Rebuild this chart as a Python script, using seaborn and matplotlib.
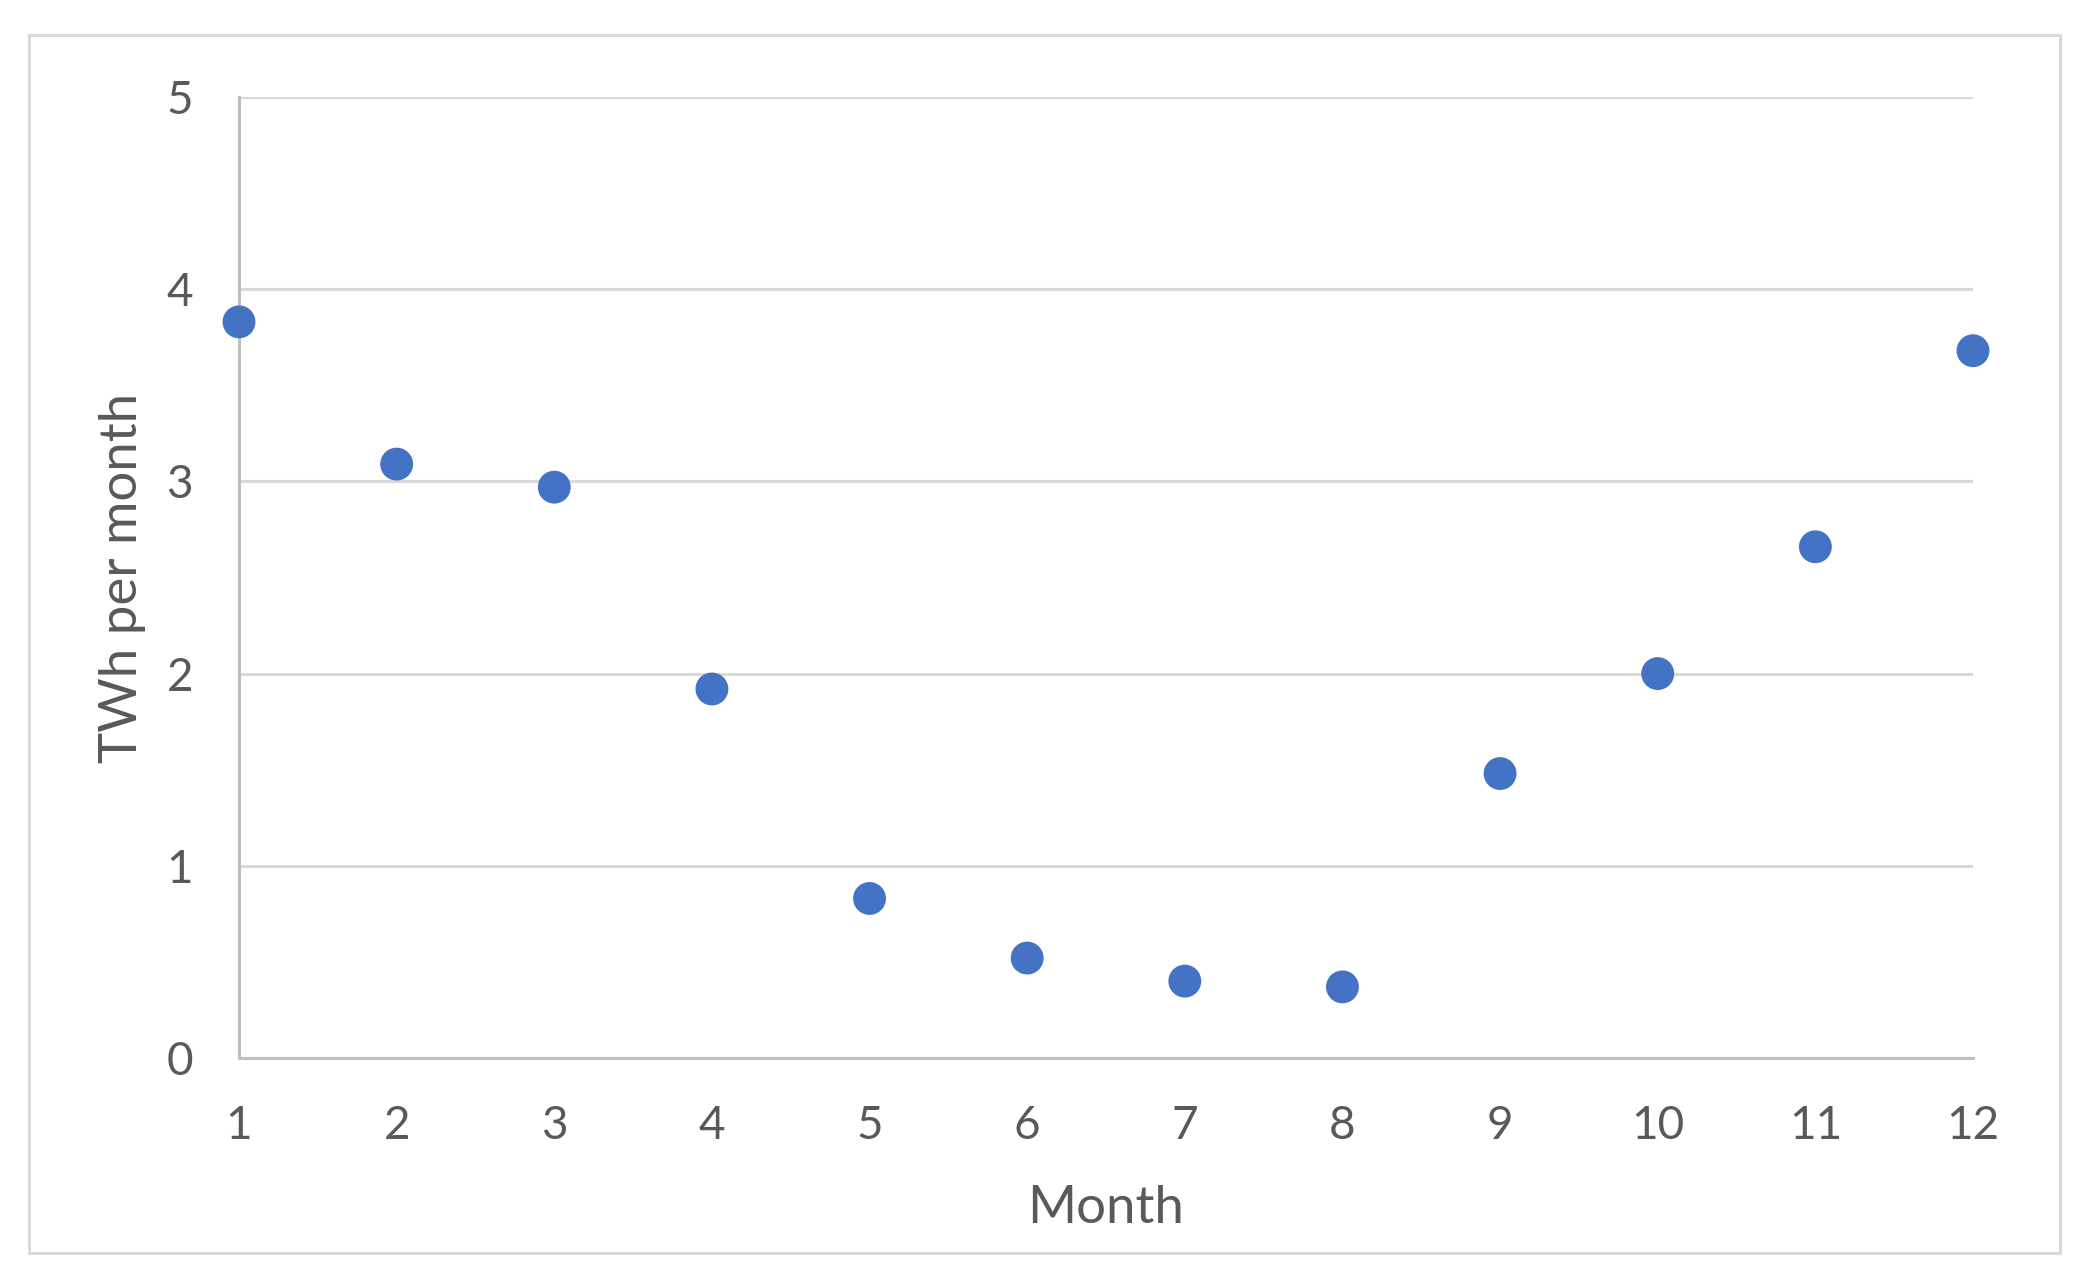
import numpy as np
import pandas as pd
import matplotlib
matplotlib.use("Agg")
import matplotlib.pyplot as plt
from matplotlib.patches import Rectangle
import seaborn as sns

months = [1, 2, 3, 4, 5, 6, 7, 8, 9, 10, 11, 12]
twh = [3.83, 3.09, 2.97, 1.92, 0.83, 0.52, 0.40, 0.37, 1.48, 2.00, 2.66, 3.68]
y_ticks = [0, 1, 2, 3, 4, 5]

df = pd.DataFrame({"Month": months, "TWh": twh})

sns.set_style("white")
plt.rcParams["font.family"] = ["Lato", "DejaVu Sans"]

W, H = 2092, 1288
fig = plt.figure(figsize=(W / 100, H / 100), dpi=100)
ax = fig.add_axes([239 / W, 1 - 1058 / H, (1973 - 239) / W, (1058 - 97) / H])

text_c = "#595959"
sns.scatterplot(data=df, x="Month", y="TWh", ax=ax, s=560, color="#4472C4",
                edgecolor="none", clip_on=False, zorder=3)

ax.set_xlim(1, 12)
ax.set_ylim(0, 5)
ax.set_xticks(months)
ax.set_yticks(y_ticks)
ax.grid(axis="y", color="#D9D9D9", lw=2.2)
ax.grid(axis="x", visible=False)
ax.set_axisbelow(True)

for s in ["top", "right"]:
    ax.spines[s].set_visible(False)
for s in ["left", "bottom"]:
    ax.spines[s].set_color("#BFBFBF")
    ax.spines[s].set_linewidth(2.2)

ax.tick_params(axis="both", length=0, labelsize=33, labelcolor=text_c)
ax.tick_params(axis="x", pad=34)
ax.tick_params(axis="y", pad=33)
ax.set_xlabel("Month", fontsize=38, color=text_c, labelpad=27)
ax.set_ylabel("TWh per month", fontsize=38, color=text_c, labelpad=15)

# outer chart frame
fig.patches.append(Rectangle((29 / W, 1 - 1253 / H), (2060 - 29) / W, (1253 - 35) / H,
                             transform=fig.transFigure, fill=False,
                             edgecolor="#D9D9D9", lw=2.2))

fig.savefig("out.png", dpi=100)
